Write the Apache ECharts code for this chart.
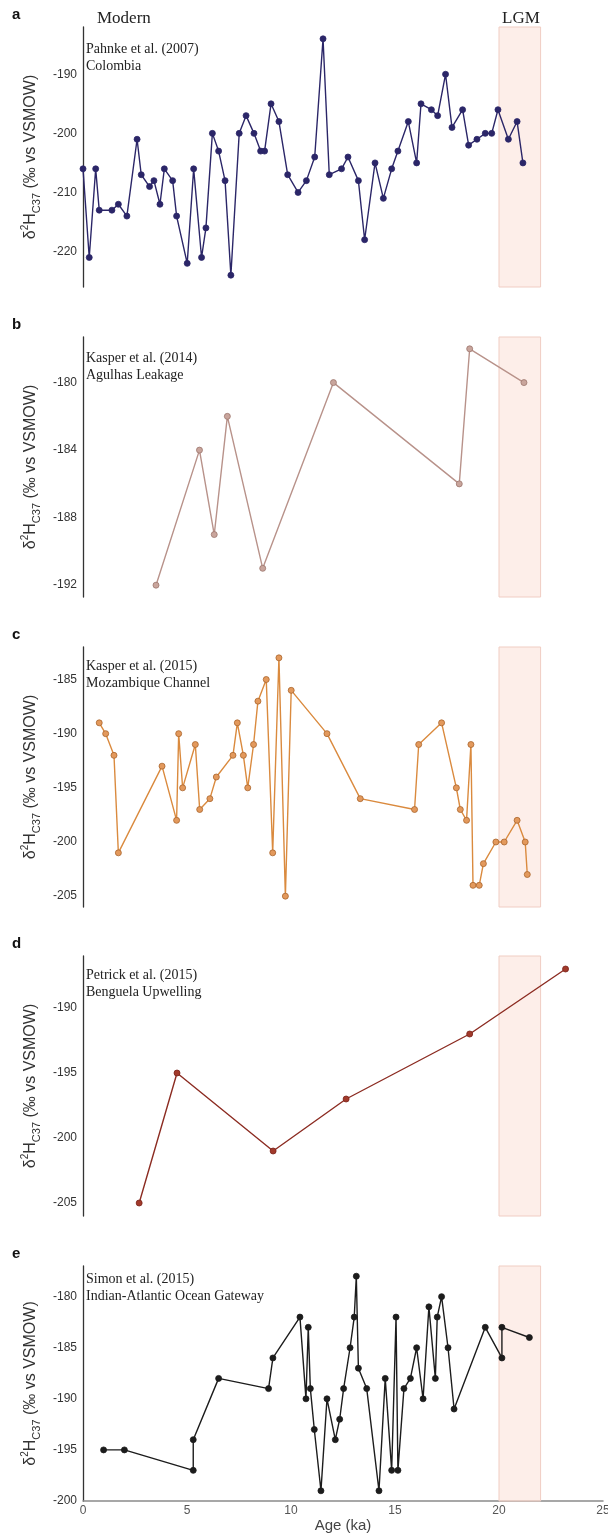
<!DOCTYPE html>
<html>
<head>
<meta charset="utf-8">
<script src="https://cdn.jsdelivr.net/npm/echarts@6/dist/echarts.min.js"></script>
<style>
  html, body { margin: 0; padding: 0; background: #fff; }
  #chart { width: 608px; height: 1534px; }
</style>
</head>
<body>
<div id="chart"></div>
<script>
// panel a: Pahnke et al. (2007) Colombia
const agesA = [0.0, 0.30, 0.61, 0.78, 1.39, 1.70, 2.11, 2.60, 2.80, 3.20,
  3.41, 3.70, 3.91, 4.31, 4.50, 5.01, 5.32, 5.70, 5.91, 6.22,
  6.52, 6.83, 7.11, 7.51, 7.84, 8.22, 8.54, 8.73, 9.04, 9.42,
  9.84, 10.34, 10.74, 11.14, 11.54, 11.84, 12.43, 12.74, 13.24, 13.54,
  14.04, 14.44, 14.84, 15.14, 15.64, 16.04, 16.25, 16.75, 17.05, 17.43,
  17.74, 18.25, 18.54, 18.94, 19.34, 19.65, 19.95, 20.45, 20.87, 21.15];
const valsA = [-206, -221, -206, -213, -213, -212, -214, -201, -207, -209,
  -208, -212, -206, -208, -214, -222, -206, -221, -216, -200,
  -203, -208, -224, -200, -197, -200, -203, -203, -195, -198,
  -207, -210, -208, -204, -184, -207, -206, -204, -208, -218,
  -205, -211, -206, -203, -198, -205, -195, -196, -197, -190,
  -199, -196, -202, -201, -200, -200, -196, -201, -198, -205];

// panel b: Kasper et al. (2014) Agulhas Leakage
const agesB = [3.51, 5.60, 6.31, 6.94, 8.64, 12.04, 18.09, 18.59, 21.2];
const valsB = [-192, -184, -189, -182, -191, -180, -186, -178, -180];

// panel c: Kasper et al. (2015) Mozambique Channel
const agesC = [0.78, 1.09, 1.49, 1.70, 3.80, 4.50, 4.60, 4.79, 5.40, 5.61,
  6.10, 6.41, 7.21, 7.42, 7.71, 7.92, 8.20, 8.41, 8.81, 9.12,
  9.42, 9.73, 10.01, 11.73, 13.33, 15.94, 16.14, 17.24, 17.95, 18.14,
  18.44, 18.65, 18.75, 19.05, 19.25, 19.85, 20.25, 20.87, 21.26, 21.36];
const valsC = [-189, -190, -192, -201, -193, -198, -190, -195, -191, -197,
  -196, -194, -192, -189, -192, -195, -191, -187, -185, -201,
  -183, -205, -186, -190, -196, -197, -191, -189, -195, -197,
  -198, -191, -204, -204, -202, -200, -200, -198, -200, -203];

// panel d: Petrick et al. (2015) Benguela Upwelling
const agesD = [2.70, 4.52, 9.14, 12.65, 18.59, 23.2];
const valsD = [-205, -195, -201, -197, -192, -187];

// panel e: Simon et al. (2015) Indian-Atlantic Ocean Gateway
const agesE = [0.99, 1.99, 5.30, 5.30, 6.52, 8.92, 9.13, 10.43, 10.72, 10.83,
  10.93, 11.12, 11.44, 11.73, 12.13, 12.34, 12.53, 12.84, 13.04, 13.14,
  13.24, 13.64, 14.23, 14.53, 14.84, 15.05, 15.14, 15.43, 15.74, 16.04,
  16.35, 16.63, 16.94, 17.03, 17.24, 17.55, 17.84, 19.34, 20.14, 20.14,
  21.46];
const valsE = [-195, -195, -197, -194, -188, -189, -186, -182, -190, -183,
  -189, -193, -199, -190, -194, -192, -189, -185, -182, -178,
  -187, -189, -199, -188, -197, -182, -197, -189, -188, -185,
  -190, -181, -188, -182, -180, -185, -191, -183, -186, -183,
  -184];

const yTicksA = [-220, -210, -200, -190];
const yTicksB = [-192, -188, -184, -180];
const yTicksC = [-205, -200, -195, -190, -185];
const yTicksD = [-205, -200, -195, -190];
const yTicksE = [-200, -195, -190, -185, -180];
const lgmRange = [20, 22];
const xRange = [0, 25];

const panels = [
  { letter: "a", ages: agesA, vals: valsA, ticks: yTicksA, min: -226, max: -182,
    title: ["Pahnke et al. (2007)", "Colombia"],
    top: 27, height: 260, line: "#2b2668", fill: "#2b2668", border: "#2b2668", size: 6 },
  { letter: "b", ages: agesB, vals: valsB, ticks: yTicksB, min: -192.7, max: -177.3,
    title: ["Kasper et al. (2014)", "Agulhas Leakage"],
    top: 337, height: 260, line: "#b8928a", fill: "#c9a59c", border: "#9c766d", size: 6 },
  { letter: "c", ages: agesC, vals: valsC, ticks: yTicksC, min: -206, max: -182,
    title: ["Kasper et al. (2015)", "Mozambique Channel"],
    top: 647, height: 260, line: "#da8a3e", fill: "#e3995c", border: "#a9652c", size: 6 },
  { letter: "d", ages: agesD, vals: valsD, ticks: yTicksD, min: -206, max: -186,
    title: ["Petrick et al. (2015)", "Benguela Upwelling"],
    top: 956, height: 260, line: "#8c2c22", fill: "#a23a2b", border: "#7a2219", size: 6 },
  { letter: "e", ages: agesE, vals: valsE, ticks: yTicksE, min: -200, max: -177,
    title: ["Simon et al. (2015)", "Indian-Atlantic Ocean Gateway"],
    top: 1266, height: 235, line: "#1c1c1c", fill: "#1c1c1c", border: "#1c1c1c", size: 6 },
];

const sans = "Liberation Sans, Arial, sans-serif";
const serif = "Liberation Serif, Times New Roman, serif";

const yName = "{t|δ}{sup|2}{t|H}{sub|C37}{t| (‰ vs VSMOW)}";
const yNameRich = {
  t: { fontFamily: sans, fontSize: 16, color: "#333", lineHeight: 22, verticalAlign: "middle" },
  sup: { fontFamily: sans, fontSize: 10, color: "#333", lineHeight: 22, verticalAlign: "top" },
  sub: { fontFamily: sans, fontSize: 11, color: "#333", lineHeight: 22, verticalAlign: "bottom" },
};

const last = panels.length - 1;
const graphic = [];
panels.forEach((p) => {
  graphic.push({
    type: "text", x: 12, y: p.top - 12,
    style: { text: p.letter, font: "bold 15px " + sans, fill: "#111", textVerticalAlign: "middle" },
  });
  const dy = p.letter === "a" ? 22 : p.letter === "e" ? 13 : p.letter === "b" ? 21 : 19;
  p.title.forEach((txt, k) => {
    graphic.push({
      type: "text", x: 86, y: p.top + dy + k * 17.5,
      style: { text: txt, font: "14px " + serif, fill: "#222", textVerticalAlign: "middle" },
    });
  });
});
graphic.push({
  type: "text", x: 97, y: 19,
  style: { text: "Modern", font: "17px " + serif, fill: "#222", textVerticalAlign: "middle" },
});
graphic.push({
  type: "text", x: 521, y: 19,
  style: { text: "LGM", font: "17px " + serif, fill: "#222", textAlign: "center", textVerticalAlign: "middle" },
});

const option = {
  animation: false,
  backgroundColor: "#fff",
  graphic,
  grid: panels.map((p) => ({
    left: 83, width: 520, top: p.top, height: p.height,
    containLabel: false, outerBoundsMode: "none",
  })),
  xAxis: panels.map((p, i) => ({
    type: "value",
    gridIndex: i,
    min: xRange[0],
    max: xRange[1],
    interval: 5,
    show: i === last,
    name: i === last ? "Age (ka)" : "",
    nameLocation: "middle",
    nameGap: 17,
    nameTextStyle: { fontFamily: sans, fontSize: 15, color: "#444" },
    axisLine: { show: true, lineStyle: { color: "#8a8a8a", width: 1.5 } },
    axisTick: { show: false },
    splitLine: { show: false },
    axisLabel: { fontFamily: sans, fontSize: 12, color: "#555", margin: 4 },
  })),
  yAxis: panels.map((p, i) => ({
    type: "value",
    gridIndex: i,
    min: p.min,
    max: p.max,
    name: yName,
    nameLocation: "middle",
    nameRotate: 90,
    nameGap: 38,
    nameTextStyle: { rich: yNameRich },
    axisLine: { show: true, lineStyle: { color: "#333", width: 1.3 } },
    axisTick: { show: false },
    splitLine: { show: false },
    axisLabel: { customValues: p.ticks, fontFamily: sans, fontSize: 12, color: "#333", margin: 6 },
  })),
  series: panels.map((p, i) => ({
    type: "line",
    xAxisIndex: i,
    yAxisIndex: i,
    data: p.ages.map((a, k) => [a, p.vals[k]]),
    symbol: "circle",
    symbolSize: p.size,
    showAllSymbol: true,
    clip: false,
    lineStyle: { color: p.line, width: 1.4 },
    itemStyle: { color: p.fill, borderColor: p.border, borderWidth: 0.8 },
    z: 3,
    markArea: {
      silent: true,
      itemStyle: { color: "rgba(252,226,218,0.6)", borderColor: "#f0cdc3", borderWidth: 1 },
      data: [[{ xAxis: lgmRange[0] }, { xAxis: lgmRange[1] }]],
    },
  })),
};

const chart = echarts.init(document.getElementById("chart"), null, { renderer: "canvas" });
chart.setOption(option);
</script>
</body>
</html>
